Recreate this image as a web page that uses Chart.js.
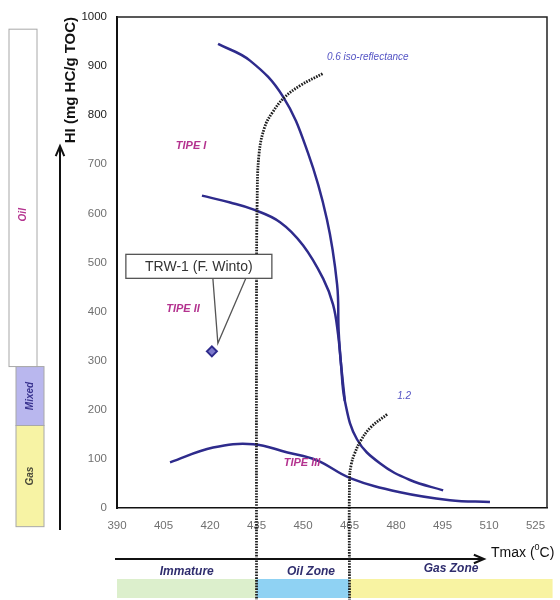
<!DOCTYPE html>
<html>
<head>
<meta charset="utf-8">
<script src="https://cdn.jsdelivr.net/npm/chart.js@4/dist/chart.umd.min.js"></script>
<style>
  body { margin: 0; background: #fff; }
  canvas { display: block; }
</style>
</head>
<body>
<canvas id="tmaxChart" width="560" height="600"></canvas>
<script>
// kerogen evolution paths, [Tmax, HI]
const typeI = [[422.6, 945], [432.9, 911], [443.5, 838], [451.6, 723], [457.7, 588], [461.0, 455],
  [461.5, 360], [462.3, 290], [463.5, 218], [467.4, 140], [474.8, 91], [484.5, 57], [495.2, 36]];
const typeII = [[417.4, 636], [426.5, 622], [433.9, 608], [442.6, 582], [450.0, 535], [456.5, 467],
  [459.7, 414], [461.3, 354], [462.3, 290], [463.5, 218]];
const typeIII = [[407.1, 93], [421.0, 123], [433.9, 130], [445.0, 113], [454.5, 97], [465.2, 61],
  [481.3, 32], [497.4, 16], [510.3, 12]];

// iso-reflectance lines (the vertical parts run down into the zone bar)
const iso06 = [[435, -190], [435, 420], [435.2, 620], [435.8, 720], [437.6, 775], [440.2, 806],
  [444.0, 836], [449.3, 861], [456.5, 885]];
const iso12 = [[465, -190], [465, 60], [465.6, 90], [466.6, 110], [468.6, 137], [471.8, 164], [477.4, 192]];

// sample
const trw1 = [420.6, 319];

// axes
const xTicks = [390, 405, 420, 435, 450, 465, 480, 495, 510, 525];
const yTicks = [0, 100, 200, 300, 400, 500, 600, 700, 800, 900, 1000];

// zone bars
const hiZoneNames = ["Gas", "Mixed", "Oil"];
const hiZoneBounds = [-38, 168, 288, 975];
const tmaxZoneNames = ["Immature", "Oil Zone", "Gas Zone"];
const tmaxZoneBounds = [390, 435, 465, 530.5];

const FONT = "'Liberation Sans', Arial, sans-serif";
const NAVY = "#2e2b8c";

const pts = a => a.map(p => ({ x: p[0], y: p[1] }));

function arrowHead(ctx, x, y, ang) {
  ctx.beginPath();
  ctx.moveTo(x - 11 * Math.cos(ang - 0.4), y - 11 * Math.sin(ang - 0.4));
  ctx.lineTo(x, y);
  ctx.lineTo(x - 11 * Math.cos(ang + 0.4), y - 11 * Math.sin(ang + 0.4));
  ctx.stroke();
}

const decor = {
  id: "decor",
  beforeDatasetsDraw(chart) {
    const { ctx, chartArea: ca, scales: { x, y } } = chart;
    ctx.save();

    // frame top / right
    ctx.strokeStyle = "#222";
    ctx.lineWidth = 1.5;
    ctx.beginPath();
    ctx.moveTo(ca.left, ca.top);
    ctx.lineTo(ca.right, ca.top);
    ctx.lineTo(ca.right, ca.bottom);
    ctx.stroke();

    // left HI class bar
    const hiFill = ["#f7f3a4", "#b9b7ee", "#ffffff"];
    const hiText = ["#4a4a3a", "#3b3590", "#b4338f"];
    hiZoneNames.forEach((name, i) => {
      const top = y.getPixelForValue(hiZoneBounds[i + 1]);
      const bot = y.getPixelForValue(hiZoneBounds[i]);
      const left = i === 2 ? 9 : 16;
      ctx.fillStyle = hiFill[i];
      ctx.fillRect(left, top, 28, bot - top);
      ctx.strokeStyle = "#a8a8a8";
      ctx.lineWidth = 1;
      ctx.strokeRect(left, top, 28, bot - top);
      ctx.save();
      ctx.translate(left + 14, i === 2 ? top + (bot - top) * 0.55 : (top + bot) / 2);
      ctx.rotate(-Math.PI / 2);
      ctx.fillStyle = hiText[i];
      ctx.font = "italic bold 10px " + FONT;
      ctx.textAlign = "center";
      ctx.textBaseline = "middle";
      ctx.fillText(name, 0, 0);
      ctx.restore();
    });

    // HI arrow
    ctx.strokeStyle = "#111";
    ctx.lineWidth = 2;
    ctx.beginPath();
    ctx.moveTo(60, 530);
    ctx.lineTo(60, 148);
    ctx.stroke();
    arrowHead(ctx, 60, 146, -Math.PI / 2);

    // Tmax arrow + title
    ctx.beginPath();
    ctx.moveTo(115, 559);
    ctx.lineTo(482, 559);
    ctx.stroke();
    arrowHead(ctx, 484, 559, 0);
    ctx.fillStyle = "#111";
    ctx.textBaseline = "alphabetic";
    ctx.textAlign = "left";
    ctx.font = "14px " + FONT;
    let tx = 491;
    ctx.fillText("Tmax (", tx, 557);
    tx += ctx.measureText("Tmax (").width;
    ctx.font = "9px " + FONT;
    ctx.fillText("0", tx, 550);
    tx += ctx.measureText("0").width;
    ctx.font = "14px " + FONT;
    ctx.fillText("C)", tx, 557);

    // Tmax zone bar
    const tFill = ["#dcefcc", "#8fd2f3", "#f8f3a2"];
    tmaxZoneNames.forEach((name, i) => {
      const l = x.getPixelForValue(tmaxZoneBounds[i]);
      const r = x.getPixelForValue(tmaxZoneBounds[i + 1]);
      ctx.fillStyle = tFill[i];
      ctx.fillRect(l, 579, r - l, 19);
      ctx.fillStyle = "#2f2d6e";
      ctx.font = "italic bold 12px " + FONT;
      ctx.textAlign = "center";
      ctx.textBaseline = "middle";
      ctx.fillText(name, (l + r) / 2 + (i === 1 ? 8 : 0), i === 2 ? 569 : 572);
    });
    ctx.restore();
  },
  afterDatasetsDraw(chart) {
    const { ctx, scales: { x, y } } = chart;
    ctx.save();
    ctx.textBaseline = "middle";

    // type labels
    ctx.fillStyle = "#b4338f";
    ctx.font = "italic bold 11px " + FONT;
    ctx.textAlign = "center";
    [["TIPE I", 413.9, 737], ["TIPE II", 411.3, 406], ["TIPE III", 449.7, 91]].forEach(l => {
      ctx.fillText(l[0], x.getPixelForValue(l[1]), y.getPixelForValue(l[2]));
    });

    // iso-reflectance labels
    ctx.fillStyle = "#5454c4";
    ctx.font = "italic 10px " + FONT;
    ctx.textAlign = "left";
    ctx.fillText("0.6 iso-reflectance", x.getPixelForValue(457.7), y.getPixelForValue(917));
    ctx.textAlign = "center";
    ctx.fillText("1.2", x.getPixelForValue(482.6), y.getPixelForValue(228));

    // TRW-1 callout
    const px = x.getPixelForValue(trw1[0]);
    const py = y.getPixelForValue(trw1[1]);
    const bl = px - 86, bt = py - 97, bw = 146, bh = 24;
    ctx.fillStyle = "#fff";
    ctx.fillRect(bl, bt, bw, bh);
    ctx.strokeStyle = "#555";
    ctx.lineWidth = 1.3;
    ctx.strokeRect(bl, bt, bw, bh);
    ctx.beginPath();
    ctx.moveTo(px + 1, bt + bh);
    ctx.lineTo(px + 6, py - 8);
    ctx.lineTo(px + 34, bt + bh);
    ctx.stroke();
    ctx.fillStyle = "#333";
    ctx.font = "14px " + FONT;
    ctx.fillText("TRW-1 (F. Winto)", bl + bw / 2, bt + bh / 2 + 1);
    ctx.restore();
  }
};

const curve = (label, data) => ({
  label, data: pts(data), showLine: true, borderColor: NAVY, borderWidth: 2.5,
  pointRadius: 0, tension: 0.4
});
const dotted = (label, data) => ({
  label, data: pts(data), showLine: true, borderColor: "#1e1e1e", borderWidth: 2.8,
  borderDash: [1.6, 1.2], pointRadius: 0, tension: 0.4, clip: false
});

new Chart(document.getElementById("tmaxChart").getContext("2d"), {
  type: "scatter",
  data: {
    datasets: [
      dotted("0.6 iso-reflectance", iso06),
      dotted("1.2", iso12),
      curve("Tipe I", typeI),
      curve("Tipe II", typeII),
      curve("Tipe III", typeIII),
      {
        label: "TRW-1 (F. Winto)",
        data: pts([trw1]),
        pointStyle: "rectRot",
        pointRadius: 5,
        backgroundColor: "#7c79cc",
        borderColor: NAVY,
        borderWidth: 2
      }
    ]
  },
  options: {
    responsive: false,
    animation: false,
    layout: { padding: { top: 13, right: 13, left: 0, bottom: 0 } },
    plugins: {
      legend: { display: false },
      tooltip: { enabled: false }
    },
    scales: {
      x: {
        type: "linear",
        min: 390,
        max: 528.7,
        afterBuildTicks: s => { s.ticks = xTicks.map(v => ({ value: v })); },
        afterFit: s => { s.height = 92; },
        grid: { display: false, drawTicks: false },
        border: { color: "#111", width: 1.5 },
        ticks: {
          color: "#707070", padding: 11, font: { family: FONT, size: 11.5 },
          callback: v => String(v)
        }
      },
      y: {
        min: 0,
        max: 1000,
        afterBuildTicks: s => { s.ticks = yTicks.map(v => ({ value: v })); },
        afterFit: s => { s.width = 117; },
        grid: { display: false, drawTicks: false },
        border: { color: "#111", width: 2 },
        ticks: {
          padding: 10,
          font: { family: FONT, size: 11.5 },
          color: c => (c.tick && c.tick.value >= 800 ? "#222" : "#707070"),
          callback: v => String(v)
        },
        title: {
          display: true,
          text: "HI (mg HC/g TOC)",
          align: "end",
          color: "#111",
          padding: { top: 62, bottom: 0 },
          font: { family: FONT, size: 15, weight: "bold" }
        }
      }
    }
  },
  plugins: [decor]
});
</script>
</body>
</html>
